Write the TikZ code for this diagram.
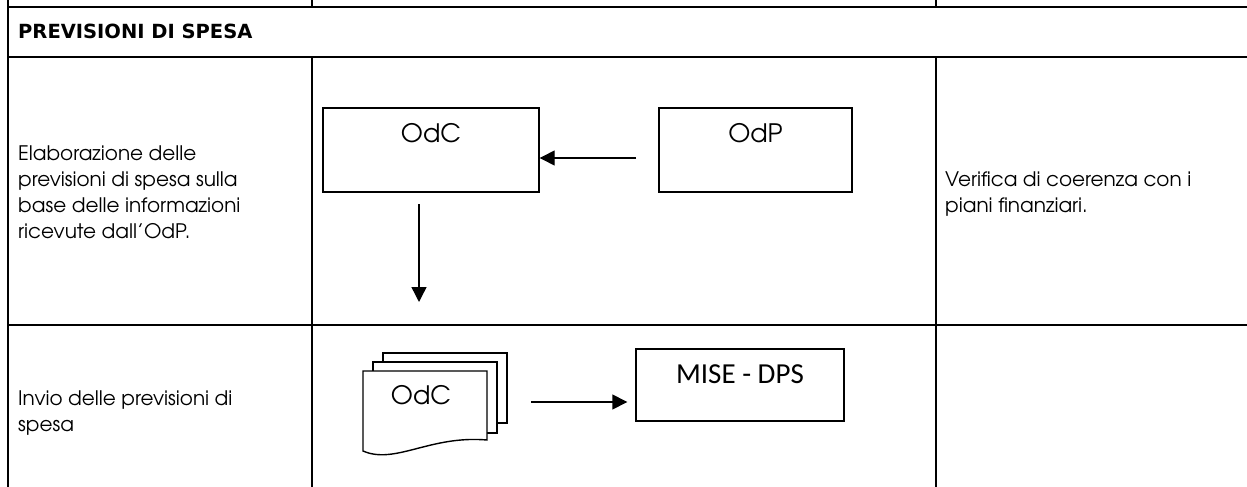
\documentclass[tikz,border=0pt]{standalone}
\usepackage{fontspec}
\setmainfont{TeX Gyre Adventor}
\newfontfamily\headfont{DejaVu Sans}
\newfontfamily\boxfont{Carlito}
\usetikzlibrary{arrows.meta,calc}

\begin{document}
\begin{tikzpicture}[x=1pt,y=-1pt,
  rule/.style={line width=2pt},
  shapeline/.style={line width=1.4pt},
  box/.style={draw, shapeline, inner sep=0pt, fill=white},
  flow/.style={shapeline, -{Triangle[length=15pt,width=15pt]}},
  body/.style={inner sep=0pt, align=left, font=\fontsize{20}{26}\selectfont},
  boxlabel/.style={inner sep=0pt, anchor=base, font=\fontsize{25.4}{30}\selectfont},
]
\useasboundingbox (0,0) rectangle (1247,487);

% table rules
\draw[rule] (8,0) -- (8,487);
\draw[rule] (312,0) -- (312,7);
\draw[rule] (936,0) -- (936,7);
\draw[rule] (312,57) -- (312,487);
\draw[rule] (936,57) -- (936,487);
\draw[rule] (8,7) -- (1247,7);
\draw[rule] (8,57) -- (1247,57);
\draw[rule] (8,325) -- (1247,325);

% header
\node[anchor=base west, inner sep=0pt,
      font=\headfont\bfseries\fontsize{19.5}{22}\selectfont] (head) at (18,38.5) {PREVISIONI DI SPESA};

% row texts (base anchor = baseline of the last line)
\node[body, anchor=base west] (elab) at (18,238)
  {Elaborazione delle\\previsioni di spesa sulla\\base delle informazioni\\ricevute dall'OdP.};
\node[body, anchor=base west] (verif) at (945,212)
  {Verifica di coerenza con i\\piani finanziari.};
\node[body, anchor=base west] (invio) at (18,431)
  {Invio delle previsioni di\\spesa};

% first row: OdP -> OdC, then down
\node[box, minimum width=216pt, minimum height=84pt] (odc) at (431,150) {};
\node[boxlabel] (odclabel) at (431,142) {OdC};
\node[box, minimum width=193pt, minimum height=84pt] (odp) at (755.5,150) {};
\node[boxlabel] (odplabel) at (755.5,142) {OdP};
\coordinate (odpout) at (636,158);
\draw[flow] (odpout) -- (odc.east |- odpout);
\coordinate (downtop) at (419,204);
\coordinate (downend) at (419,302);
\draw[flow] (downtop) -- (downend);

% second row: stacked documents -> MISE - DPS
\draw[shapeline, fill=white] (383,353) rectangle (507,423);
\draw[shapeline, fill=white] (373,362) rectangle (497,433);
\draw[shapeline, fill=white] (363,371) -- (487,371) -- (487,440)
  .. controls (430,435) and (395,465) .. (363,451) -- cycle;
\node[boxlabel] (docslabel) at (421,404) {OdC};
\node[box, minimum width=208pt, minimum height=72pt] (mise) at (740,385) {};
\node[inner sep=0pt, anchor=base, font=\boxfont\fontsize{29}{34}\selectfont] (miselabel) at (740,383) {MISE - DPS};
\coordinate (docsout) at (531,402);
\draw[flow] (docsout) -- ($(mise.west |- docsout)+(-8,0)$);
\end{tikzpicture}
\end{document}
